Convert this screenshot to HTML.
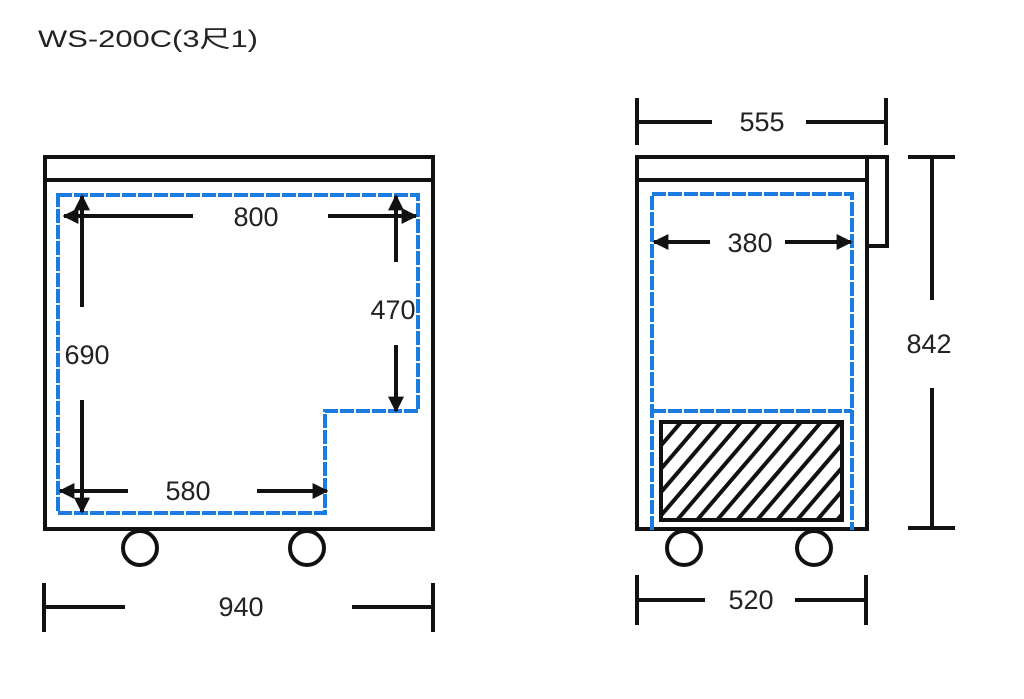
<!DOCTYPE html>
<html><head><meta charset="utf-8"><style>
html,body{margin:0;padding:0;background:#fff;}
svg{display:block}
text{font-family:"Liberation Sans","Noto Sans CJK TC",sans-serif;fill:#222;}
</style></head><body>
<svg width="1024" height="699" viewBox="0 0 1024 699" xmlns="http://www.w3.org/2000/svg">
<defs>
<marker id="ah" viewBox="0 0 10 10" refX="9" refY="5" markerWidth="4" markerHeight="4" orient="auto-start-reverse">
<path d="M0,0 L10,5 L0,10 z" fill="#111"/></marker>
<clipPath id="hc"><rect x="662" y="423" width="179" height="96"/></clipPath>
</defs>
<text x="38" y="47" font-size="24" textLength="220" lengthAdjust="spacingAndGlyphs">WS-200C(3尺1)</text>

<!-- left cabinet -->
<g stroke="#111" stroke-width="4" fill="none">
<rect x="45" y="157" width="388" height="372"/>
<line x1="45" y1="180" x2="433" y2="180"/>
<circle cx="140" cy="548" r="17"/>
<circle cx="307" cy="548" r="17"/>
</g>
<polygon points="58,195 418,195 418,411 325,411 325,513 58,513" fill="none" stroke="#1a7be0" stroke-width="4" stroke-dasharray="14,2"/>
<g stroke="#111" stroke-width="4" fill="none">
<line x1="193" y1="216" x2="64" y2="216" marker-end="url(#ah)"/>
<line x1="328" y1="216" x2="416" y2="216" marker-end="url(#ah)"/>
<line x1="82" y1="307" x2="82" y2="196" marker-end="url(#ah)"/>
<line x1="82" y1="400" x2="82" y2="512" marker-end="url(#ah)"/>
<line x1="396" y1="262" x2="396" y2="196" marker-end="url(#ah)"/>
<line x1="396" y1="345" x2="396" y2="411" marker-end="url(#ah)"/>
<line x1="128" y1="491" x2="60" y2="491" marker-end="url(#ah)"/>
<line x1="257" y1="491" x2="327" y2="491" marker-end="url(#ah)"/>
<line x1="44" y1="583" x2="44" y2="632"/>
<line x1="433" y1="583" x2="433" y2="632"/>
<line x1="44" y1="607" x2="125" y2="607"/>
<line x1="352" y1="607" x2="433" y2="607"/>
</g>
<g font-size="27" text-anchor="middle">
<text x="256" y="226">800</text>
<text x="87" y="364">690</text>
<text x="393" y="319">470</text>
<text x="188" y="500">580</text>
<text x="241" y="616">940</text>
</g>

<!-- right cabinet -->
<g stroke="#111" stroke-width="4" fill="none">
<rect x="637" y="157" width="230" height="372"/>
<line x1="637" y1="180" x2="867" y2="180"/>
<polyline points="867,157 887,157 887,246 867,246"/>
<circle cx="684" cy="548" r="17"/>
<circle cx="814" cy="548" r="17"/>
</g>
<g fill="none" stroke="#1a7be0" stroke-width="4" stroke-dasharray="14,2">
<polyline points="652,530 652,194 852,194 852,530"/>
<line x1="652" y1="411" x2="852" y2="411"/>
</g>
<g clip-path="url(#hc)" stroke="#111" stroke-width="4">
<path d="M560,540 L680,400 M580,540 L700,400 M600,540 L720,400 M620,540 L740,400 M640,540 L760,400 M660,540 L780,400 M680,540 L800,400 M700,540 L820,400 M720,540 L840,400 M740,540 L860,400 M760,540 L880,400 M780,540 L900,400 M800,540 L920,400 M820,540 L940,400"/>
</g>
<rect x="661" y="422" width="181" height="98" fill="none" stroke="#111" stroke-width="4"/>
<g stroke="#111" stroke-width="4" fill="none">
<line x1="710" y1="242" x2="654" y2="242" marker-end="url(#ah)"/>
<line x1="785" y1="242" x2="851" y2="242" marker-end="url(#ah)"/>
<line x1="637" y1="98" x2="637" y2="145"/>
<line x1="886" y1="98" x2="886" y2="145"/>
<line x1="637" y1="122" x2="712" y2="122"/>
<line x1="806" y1="122" x2="886" y2="122"/>
<line x1="908" y1="157" x2="955" y2="157"/>
<line x1="908" y1="528" x2="955" y2="528"/>
<line x1="932" y1="157" x2="932" y2="300"/>
<line x1="932" y1="388" x2="932" y2="528"/>
<line x1="637" y1="575" x2="637" y2="625"/>
<line x1="866" y1="575" x2="866" y2="625"/>
<line x1="637" y1="600" x2="705" y2="600"/>
<line x1="795" y1="600" x2="866" y2="600"/>
</g>
<g font-size="27" text-anchor="middle">
<text x="750" y="252">380</text>
<text x="762" y="131">555</text>
<text x="929" y="353">842</text>
<text x="751" y="609">520</text>
</g>
</svg>
</body></html>
